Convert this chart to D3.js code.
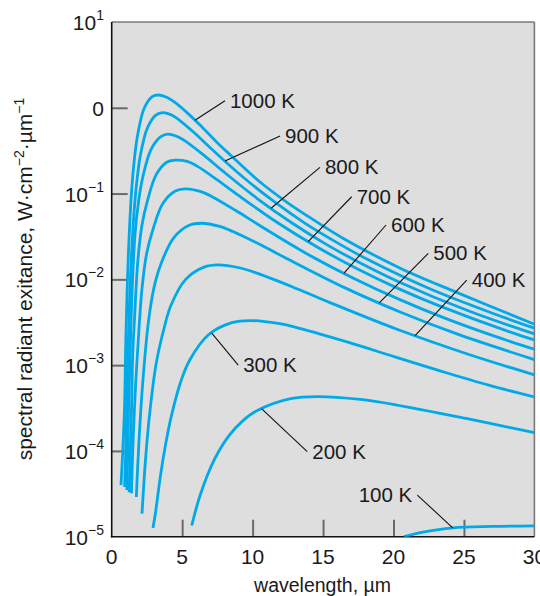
<!DOCTYPE html>
<html>
<head>
<meta charset="utf-8">
<script src="https://cdn.jsdelivr.net/npm/d3@7/dist/d3.min.js"></script>
<style>
  body { margin: 0; background: #ffffff; }
  svg { display: block; }
  text { font-family: "Liberation Sans", Arial, sans-serif; fill: #1a1a1a; }
</style>
</head>
<body>
<svg id="chart" width="540" height="596"></svg>
<script>
// ---------- data ----------
const temperatures = [1000, 900, 800, 700, 600, 500, 400, 300, 200, 100];

const wl1000 = [0.66, 0.90, 1.00, 1.10, 1.20, 1.40, 1.62, 1.85, 2.30, 2.87, 3.32, 3.94, 4.44, 5.44, 6.44, 7.44, 8.44, 10.44, 12.44, 14.44, 16.44, 20.44, 24.44, 30];
const exit1000 = [4.0e-5, 2.8e-4, 1.9e-3, 7.8e-3, 0.023, 0.10, 0.26, 0.49, 0.98, 1.35, 1.41, 1.32, 1.17, 0.85, 0.59, 0.40, 0.28, 0.14, 0.079, 0.048, 0.030, 0.0136, 7.1e-3, 3.0e-3];

const wl900 = [0.92, 1.03, 1.14, 1.25, 1.36, 1.58, 1.81, 2.05, 2.53, 3.13, 3.62, 4.29, 4.84, 5.96, 7.07, 9.29, 11.51, 13.73, 15.96, 18.18, 22.62, 27.07, 30];
const exit900 = [3.8e-5, 1.67e-4, 1.12e-3, 4.6e-3, 0.0134, 0.059, 0.151, 0.287, 0.58, 0.82, 0.88, 0.82, 0.71, 0.495, 0.333, 0.157, 0.081, 0.045, 0.027, 0.017, 7.7e-3, 4.0e-3, 2.7e-3];

const wl800 = [1.08, 1.19, 1.25, 1.35, 1.45, 1.65, 1.92, 2.22, 2.78, 3.46, 3.97, 4.73, 5.35, 6.60, 7.85, 10.35, 12.85, 15.35, 17.85, 20.35, 25.35, 30];
const exit800 = [3.5e-5, 2.6e-4, 6.2e-4, 2.5e-3, 7.4e-3, 0.0328, 0.084, 0.159, 0.323, 0.457, 0.494, 0.457, 0.396, 0.275, 0.185, 0.087, 0.0448, 0.0249, 0.0149, 9.4e-3, 4.27e-3, 2.31e-3];

const wl700 = [1.24, 1.34, 1.41, 1.49, 1.63, 1.86, 2.15, 2.53, 3.16, 3.90, 4.49, 5.35, 6.06, 7.49, 8.92, 11.78, 14.64, 17.49, 20.35, 23.21, 28.92, 30];
const exit700 = [3.3e-5, 1.33e-4, 3.16e-4, 1.3e-3, 3.8e-3, 0.0168, 0.043, 0.0817, 0.166, 0.232, 0.245, 0.237, 0.209, 0.1445, 0.0973, 0.0457, 0.0235, 0.0131, 7.8e-3, 4.94e-3, 2.24e-3, 1.97e-3];

const wl600 = [1.40, 1.45, 1.53, 1.70, 1.87, 2.15, 2.48, 2.92, 3.63, 4.52, 5.23, 6.28, 7.12, 8.78, 10.45, 13.78, 17.12, 20.45, 23.78, 27.12, 30];
const exit600 = [3.2e-5, 6.2e-5, 1.48e-4, 6.0e-4, 1.76e-3, 7.8e-3, 0.020, 0.0378, 0.0767, 0.107, 0.1135, 0.106, 0.092, 0.0638, 0.043, 0.0202, 0.0104, 5.8e-3, 3.46e-3, 2.19e-3, 1.53e-3];

const wl500 = [1.75, 1.83, 2.03, 2.23, 2.60, 3.00, 3.50, 4.40, 5.50, 6.40, 7.60, 8.60, 10.6, 12.6, 16.6, 20.6, 24.6, 30];
const exit500 = [2.9e-5, 5.9e-5, 2.42e-4, 7.1e-4, 3.13e-3, 8.0e-3, 0.0152, 0.0305, 0.0427, 0.0451, 0.0417, 0.0361, 0.0251, 0.0169, 7.9e-3, 4.08e-3, 2.28e-3, 1.16e-3];

const wl400 = [2.15, 2.40, 2.65, 3.15, 3.70, 4.20, 5.25, 6.55, 7.55, 9.05, 10.3, 12.8, 15.3, 20.3, 25.3, 30];
const exit400 = [1.86e-5, 7.9e-5, 2.32e-4, 1.03e-3, 2.62e-3, 4.95e-3, 0.0100, 0.0139, 0.01476, 0.01365, 0.0118, 8.2e-3, 5.52e-3, 2.6e-3, 1.34e-3, 7.7e-4];

const wl300 = [2.93, 3.10, 3.48, 3.85, 4.20, 4.87, 5.53, 6.87, 8.53, 9.82, 11.82, 13.48, 16.82, 20.15, 23.48, 26.82, 30];
const exit300 = [1.26e-5, 1.86e-5, 5.4e-5, 1.25e-4, 2.41e-4, 6.2e-4, 1.14e-3, 2.26e-3, 3.13e-3, 3.31e-3, 3.06e-3, 2.65e-3, 1.84e-3, 1.24e-3, 8.4e-4, 5.8e-4, 4.25e-4];

const wl200 = [5.68, 6.30, 7.30, 8.30, 9.30, 10.30, 12.70, 14.65, 17.65, 20.15, 25.15, 30];
const exit200 = [1.35e-5, 3.13e-5, 8.0e-5, 1.49e-4, 2.24e-4, 2.94e-4, 4.07e-4, 4.3e-4, 3.98e-4, 3.45e-4, 2.39e-4, 1.63e-4];

const wl100 = [20.74, 22.0, 24.2, 27.0, 30];
const exit100 = [1.0e-5, 1.12e-5, 1.27e-5, 1.32e-5, 1.34e-5];

// curve labels: where the leader touches the curve (wavelength), and the leader's far end
const labelTipWl = [5.91, 8.04, 11.31, 13.95, 16.49, 18.99, 21.53, 7.10, 10.65, 24.2];
const labelEndWl = [8.04, 11.95, 14.78, 17.03, 19.47, 22.47, 25.20, 8.98, 13.88, 21.69];
const labelEndVal = [1.21, 0.469, 0.202, 0.0918, 0.043, 0.0201, 9.8e-3, 1.0e-3, 9.8e-5, 3.06e-5];

const xTickValues = [0, 5, 10, 15, 20, 25, 30];
const yTickExponents = [1, 0, -1, -2, -3, -4, -5];

// ---------- build ----------
const wlByT = {1000: wl1000, 900: wl900, 800: wl800, 700: wl700, 600: wl600, 500: wl500, 400: wl400, 300: wl300, 200: wl200, 100: wl100};
const exByT = {1000: exit1000, 900: exit900, 800: exit800, 700: exit700, 600: exit600, 500: exit500, 400: exit400, 300: exit300, 200: exit200, 100: exit100};
const series = temperatures.map((T, i) => ({
  T,
  points: wlByT[T].map((w, j) => [w, exByT[T][j]]),
  tipWl: labelTipWl[i], endWl: labelEndWl[i], endVal: labelEndVal[i]
}));

const svg = d3.select('#chart');
const plot = {left: 111.7, right: 534.4, top: 22, bottom: 536.7};

const x = d3.scaleLinear().domain([0, 30]).range([plot.left, plot.right]);
const y = d3.scaleLog().domain([1e-5, 10]).range([plot.bottom, plot.top]);

svg.append('rect')
  .attr('x', plot.left).attr('y', plot.top)
  .attr('width', plot.right - plot.left).attr('height', plot.bottom - plot.top)
  .attr('fill', '#dedede');

svg.append('clipPath').attr('id', 'clip')
  .append('rect')
  .attr('x', plot.left).attr('y', plot.top)
  .attr('width', plot.right - plot.left).attr('height', plot.bottom - plot.top);

// axes (ticks pointing inward)
const yAxis = d3.axisLeft(y)
  .tickValues(yTickExponents.filter(e => e < 1 && e > -5).map(e => Math.pow(10, e)))
  .tickSizeInner(-16).tickSizeOuter(0).tickFormat('');
const gy = svg.append('g').attr('transform', `translate(${plot.left},0)`).call(yAxis);

const xAxis = d3.axisBottom(x)
  .tickValues(xTickValues.filter(v => v > 0 && v < 30))
  .tickSizeInner(-17).tickSizeOuter(0).tickFormat('');
const gx = svg.append('g').attr('transform', `translate(0,${plot.bottom})`).call(xAxis);

[gx, gy].forEach(g => {
  g.selectAll('.tick line').attr('stroke', '#6a6a6a').attr('stroke-width', 2);
  g.select('.domain').remove();
});

// frame
svg.append('line').attr('x1', plot.left).attr('x2', plot.right).attr('y1', plot.top).attr('y2', plot.top)
  .attr('stroke', '#7a7a7a').attr('stroke-width', 1.6);
svg.append('line').attr('x1', plot.right).attr('x2', plot.right).attr('y1', plot.top).attr('y2', plot.bottom)
  .attr('stroke', '#7a7a7a').attr('stroke-width', 1.6);
svg.append('line').attr('x1', plot.left).attr('x2', plot.left).attr('y1', plot.top).attr('y2', plot.bottom + 0.8)
  .attr('stroke', '#111').attr('stroke-width', 1.6);
svg.append('line').attr('x1', plot.left - 0.8).attr('x2', plot.right).attr('y1', plot.bottom).attr('y2', plot.bottom)
  .attr('stroke', '#111').attr('stroke-width', 1.6);

// curves
const line = d3.line()
  .x(d => x(d[0]))
  .y(d => y(d[1]))
  .curve(d3.curveCatmullRom.alpha(0.5));

svg.append('g').attr('clip-path', 'url(#clip)')
  .selectAll('path').data(series).join('path')
  .attr('d', d => line(d.points))
  .attr('fill', 'none')
  .attr('stroke', '#00a9e8')
  .attr('stroke-width', 2.8)
  .attr('stroke-linejoin', 'round');

// value on a curve at a wavelength (log interpolation between read points)
function valueAt(points, w) {
  for (let i = 0; i < points.length - 1; i++) {
    const a = points[i], b = points[i + 1];
    if (w >= a[0] && w <= b[0]) {
      const t = (w - a[0]) / (b[0] - a[0]);
      return Math.pow(10, Math.log10(a[1]) + t * (Math.log10(b[1]) - Math.log10(a[1])));
    }
  }
  return points[points.length - 1][1];
}

// leaders and labels
const lab = svg.append('g');
series.forEach(s => {
  const tipX = x(s.tipWl), tipY = y(valueAt(s.points, s.tipWl));
  const endX = x(s.endWl), endY = y(s.endVal);
  lab.append('line')
    .attr('x1', tipX).attr('y1', tipY).attr('x2', endX).attr('y2', endY)
    .attr('stroke', '#111').attr('stroke-width', 1.1);
  const leftSide = s.endWl < s.tipWl;
  lab.append('text')
    .attr('x', leftSide ? endX - 5 : endX + 5)
    .attr('y', endY + 7)
    .attr('text-anchor', leftSide ? 'end' : 'start')
    .attr('font-size', 20.5)
    .text(`${s.T} K`);
});

// y tick labels
const yl = svg.append('g');
yTickExponents.forEach(e => {
  const t = yl.append('text')
    .attr('x', 104).attr('y', y(Math.pow(10, e)) + 8)
    .attr('text-anchor', 'end')
    .attr('font-size', 21);
  if (e === 0) {
    t.text('0');
  } else {
    t.append('tspan').text('10');
    t.append('tspan').attr('dy', -10).attr('font-size', 14)
      .text(e > 0 ? String(e) : '\u2212' + String(-e));
  }
});

// x tick labels
svg.append('g').selectAll('text').data(xTickValues).join('text')
  .attr('x', d => x(d)).attr('y', plot.bottom + 27)
  .attr('text-anchor', 'middle')
  .attr('font-size', 21)
  .text(d => d);

// axis titles
svg.append('text')
  .attr('x', (plot.left + plot.right) / 2 - 0.5).attr('y', 592)
  .attr('text-anchor', 'middle')
  .attr('font-size', 19.5)
  .text('wavelength, \u00b5m');

const yt = svg.append('text')
  .attr('transform', 'translate(32,279) rotate(-90)')
  .attr('text-anchor', 'middle')
  .attr('font-size', 21);
yt.append('tspan').text('spectral radiant exitance, W\u00b7cm');
yt.append('tspan').attr('dy', -8).attr('font-size', 14).text('\u22122');
yt.append('tspan').attr('dy', 8).text('\u00b7\u00b5m');
yt.append('tspan').attr('dy', -8).attr('font-size', 14).text('\u22121');
</script>
</body>
</html>
